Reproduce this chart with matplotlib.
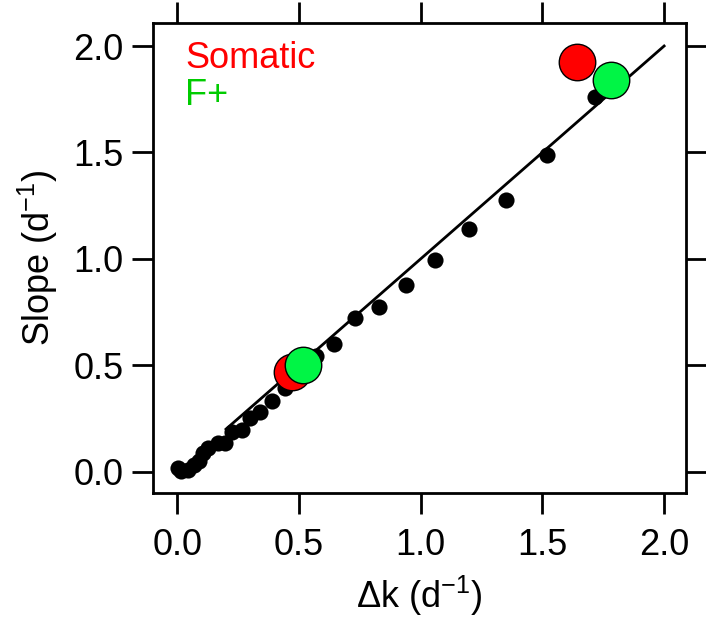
import matplotlib
matplotlib.use("Agg")
import matplotlib.pyplot as plt
import numpy as np

plt.rcParams['font.family'] = ['Liberation Sans', 'DejaVu Sans']
plt.rcParams['mathtext.fontset'] = 'custom'
plt.rcParams['mathtext.rm'] = 'Liberation Sans'

# black points: delta k vs slope
dk = [0.004, 0.015, 0.045, 0.07, 0.09, 0.107, 0.127, 0.168, 0.197, 0.226, 0.267,
      0.30, 0.34, 0.39, 0.443, 0.57, 0.645, 0.731, 0.83, 0.94, 1.06, 1.20, 1.35,
      1.52, 1.717]
slope = [0.019, 0.002, 0.01, 0.03, 0.05, 0.09, 0.11, 0.136, 0.136, 0.188, 0.197,
         0.25, 0.28, 0.333, 0.394, 0.545, 0.60, 0.723, 0.775, 0.878, 0.995, 1.14,
         1.277, 1.49, 1.76]

# somatic (red) and F+ (green) points
som_dk = [0.472, 1.643]
som_slope = [0.469, 1.925]
fp_dk = [0.517, 1.78]
fp_slope = [0.502, 1.84]

# reference line y = x
line_x = [0.2, 2.0]
line_y = [0.2, 2.0]

fig = plt.figure(figsize=(7.06, 6.17), dpi=100)
ax = fig.add_axes([0.2167, 0.201, 0.755, 0.7617])

ax.plot(line_x, line_y, color='black', lw=2, zorder=2)
ax.scatter(dk, slope, s=135, color='black', zorder=3, linewidths=0)
ax.scatter(som_dk, som_slope, s=690, color='#ff0000', edgecolor='black', lw=1, zorder=4)
ax.scatter(fp_dk, fp_slope, s=690, color='#00f545', edgecolor='black', lw=1, zorder=5)

ax.set_xlim(-0.1, 2.09)
ax.set_ylim(-0.1, 2.108)
ax.set_xticks([0.0, 0.5, 1.0, 1.5, 2.0])
ax.set_yticks([0.0, 0.5, 1.0, 1.5, 2.0])
ax.xaxis.set_major_formatter(matplotlib.ticker.FormatStrFormatter('%.1f'))
ax.yaxis.set_major_formatter(matplotlib.ticker.FormatStrFormatter('%.1f'))

for sp in ax.spines.values():
    sp.set_linewidth(2)
ax.tick_params(direction='out', length=15, width=2, labelsize=26, top=True, right=True)
ax.tick_params(axis='x', pad=10)
ax.tick_params(axis='y', pad=6)

ax.set_xlabel(r'$\Delta$k (d$^{\mathregular{-1}}$)', fontsize=26, labelpad=8)
ax.set_ylabel(r'Slope (d$^{\mathregular{-1}}$)', fontsize=26, labelpad=10)

ax.text(0.06, 0.905, 'Somatic', color='#ff0000', fontsize=26, transform=ax.transAxes)
ax.text(0.06, 0.825, 'F+', color='#00cc00', fontsize=26, transform=ax.transAxes)

fig.savefig('out.png', dpi=100)
